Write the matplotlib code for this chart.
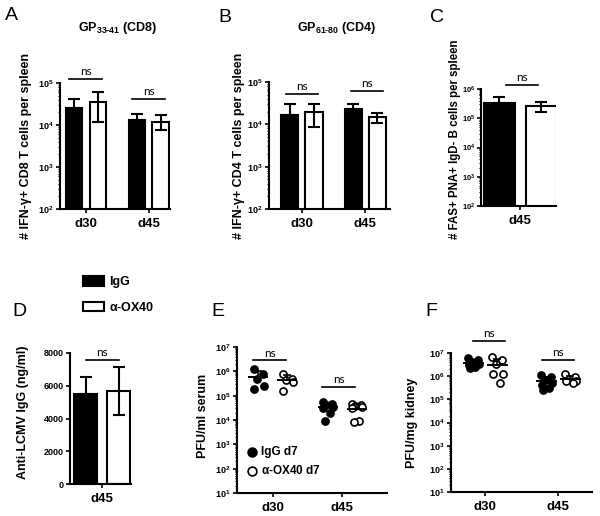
import numpy as np
import matplotlib
matplotlib.use("Agg")
import matplotlib.pyplot as plt
from matplotlib.ticker import LogLocator, NullFormatter, FixedLocator

plt.rcParams['font.family'] = ['Liberation Sans', 'DejaVu Sans']
plt.rcParams['mathtext.fontset'] = 'custom'
plt.rcParams['mathtext.rm'] = 'Liberation Sans'
plt.rcParams['mathtext.bf'] = 'Liberation Sans:bold'

# ---- data ----
days_ab = ["d30", "d45"]
days_c = ["d45"]

# A: GP33-41 CD8 (mean, upper err, lower err)
a_igg = [2.6e4, 1.35e4]
a_igg_hi = [4.2e4, 1.8e4]
a_ox = [3.6e4, 1.2e4]
a_ox_hi = [6.0e4, 1.7e4]
a_ox_lo = [1.2e4, 7.4e3]

# B: GP61-80 CD4
b_igg = [1.7e4, 2.3e4]
b_igg_hi = [3.1e4, 3.1e4]
b_ox = [2.0e4, 1.5e4]
b_ox_hi = [3.1e4, 1.9e4]
b_ox_lo = [8.7e3, 1.1e4]

# C: GC B cells
c_igg = [3.3e5]
c_igg_hi = [5.2e5]
c_ox = [2.6e5]
c_ox_hi = [3.5e5]
c_ox_lo = [1.6e5]

# D: anti-LCMV IgG
d_igg = [5490]
d_igg_hi = [6510]
d_ox = [5690]
d_ox_hi = [7140]
d_ox_lo = [4220]

# E: PFU/ml serum
e_igg = [[1.2e6, 8e5, 5e5, 2.5e5, 1.8e5],
         [5.5e4, 4.5e4, 4e4, 3.5e4, 3e4, 2e4, 9e3]]
e_ox = [[8e5, 5e5, 4.5e5, 3.5e5, 1.6e5],
        [4.5e4, 4e4, 3.8e4, 3.5e4, 3e4, 9e3, 8e3]]

# F: PFU/mg kidney
f_igg = [[6e6, 5e6, 4e6, 3.5e6, 3e6, 2.5e6, 2.2e6],
         [1.1e6, 9e5, 7e5, 5e5, 4e5, 3e5, 2.5e5]]
f_ox = [[7e6, 5e6, 3.5e6, 1.3e6, 1.2e6, 5e5],
        [1.2e6, 9e5, 7.5e5, 6.5e5, 6e5, 5e5]]

W, H = 600, 516
fig = plt.figure(figsize=(6, 5.16), dpi=100)

# horizontal spread pattern for the dot plots
JIT = np.array([-0.07, 0.06, -0.02, 0.08, -0.06, 0.03, -0.04])


def add_ax(x0, x1, ytop, ybot):
    return fig.add_axes([x0 / W, 1 - ybot / H, (x1 - x0) / W, (ybot - ytop) / H])


def style(ax, labels, xlim, log=True, ymin=None, ymax=None):
    for s in ["top", "right"]:
        ax.spines[s].set_visible(False)
    for s in ["left", "bottom"]:
        ax.spines[s].set_linewidth(1.5)
    ax.set_xlim(*xlim)
    ax.set_xticks(range(len(labels)))
    ax.set_xticklabels(labels, fontsize=9.5, fontweight="bold")
    ax.tick_params(axis="x", length=3, width=1.2, pad=3.5)
    ax.tick_params(axis="y", length=3, width=1.2, pad=1.5, labelsize=6.5)
    if log:
        ax.set_yscale("log")
        ax.set_ylim(ymin, ymax)
        lo, hi = int(np.log10(ymin)), int(np.log10(ymax))
        ticks = [10.0 ** k for k in range(lo, hi + 1)]
        ax.yaxis.set_major_locator(FixedLocator(ticks))
        ax.set_yticklabels([r"$\mathbf{10^{%d}}$" % k for k in range(lo, hi + 1)])
        ax.yaxis.set_minor_locator(LogLocator(base=10, subs=np.arange(2, 10)))
        ax.yaxis.set_minor_formatter(NullFormatter())
        ax.tick_params(axis="y", which="minor", length=1.5, width=0.8)


def bars(ax, igg, igg_hi, ox, ox_hi, ox_lo, off, width, log=True):
    x = np.arange(len(igg))
    igg = np.array(igg); ox = np.array(ox)
    igg_hi = np.array(igg_hi); ox_hi = np.array(ox_hi); ox_lo = np.array(ox_lo)
    ax.bar(x - off, igg, width, color="black", edgecolor="black", linewidth=1.5,
           label="IgG", zorder=2)
    ax.bar(x + off, ox, width, color="white", edgecolor="black", linewidth=1.5,
           label=r"$\mathbf{\alpha}$-OX40", zorder=2)
    ax.errorbar(x - off, igg, yerr=[np.zeros_like(igg), igg_hi - igg], fmt="none",
                ecolor="black", elinewidth=1.5, capsize=4, capthick=1.5, zorder=3)
    ax.errorbar(x + off, ox, yerr=[ox - ox_lo, ox_hi - ox], fmt="none",
                ecolor="black", elinewidth=1.5, capsize=4, capthick=1.5, zorder=3)
    return np.maximum(igg_hi, ox_hi)


def ns(ax, x, y, half, text_gap):
    ax.plot([x - half, x + half], [y, y], color="black", lw=1.2, clip_on=False)
    ax.text(x, y * text_gap if ax.get_yscale() == "log" else y + text_gap, "ns",
            ha="center", va="bottom", fontsize=8.5, family="Lato", clip_on=False)


def dots(ax, groups_igg, groups_ox, off):
    for i, (g1, g2) in enumerate(zip(groups_igg, groups_ox)):
        for vals, xo, fc in [(g1, -off, "black"), (g2, off, "white")]:
            vals = np.array(vals)
            jit = JIT[:len(vals)]
            ax.scatter(i + xo + jit, vals, s=26, facecolor=fc, edgecolor="black",
                       linewidth=1.2, zorder=3, clip_on=False)
            m, sd = vals.mean(), vals.std(ddof=1)
            ax.plot([i + xo - 0.13, i + xo + 0.13], [m, m], color="black", lw=1.4, zorder=4)
            ax.errorbar(i + xo, m, yerr=[[0], [sd]], fmt="none", ecolor="black",
                        elinewidth=1.2, capsize=3, capthick=1.2, zorder=4)


# ---- A ----
axA = add_ax(60, 170, 83, 209)
topA = bars(axA, a_igg, a_igg_hi, a_ox, a_ox_hi, a_ox_lo, 0.19, 0.26)
style(axA, days_ab, (-0.41, 1.34), ymin=1e2, ymax=1e5)
axA.set_ylabel("# IFN-\u03b3+ CD8 T cells per spleen", fontsize=9, fontweight="bold")
axA.yaxis.set_label_coords(-0.25, 0.5)
for i, f in enumerate([2.1, 2.3]):
    ns(axA, i, topA[i] * f, 0.26, 1.12)

# ---- B ----
axB = add_ax(269, 390, 82, 209)
topB = bars(axB, b_igg, b_igg_hi, b_ox, b_ox_hi, b_ox_lo, 0.19, 0.27)
style(axB, days_ab, (-0.52, 1.39), ymin=1e2, ymax=1e5)
axB.set_ylabel("# IFN-\u03b3+ CD4 T cells per spleen", fontsize=9, fontweight="bold")
axB.yaxis.set_label_coords(-0.2, 0.5)
for i, f in enumerate([1.7, 2.0]):
    ns(axB, i + 0.03 * i, topB[i] * f, 0.25, 1.12)

# ---- C ----
axC = add_ax(481, 556, 89, 206)
topC = bars(axC, c_igg, c_igg_hi, c_ox, c_ox_hi, c_ox_lo, 0.42, 0.62)
style(axC, days_c, (-0.78, 0.72), ymin=1e2, ymax=1e6)
axC.tick_params(axis="y", labelsize=5.5, pad=1)
axC.set_ylabel("# FAS+ PNA+ IgD- B cells per spleen", fontsize=8.3, fontweight="bold")
axC.yaxis.set_label_coords(-0.27, 0.57)
ns(axC, 0.04, topC[0] * 2.6, 0.32, 1.15)

# ---- D ----
axD = add_ax(70, 131, 353, 484)
bars(axD, d_igg, d_igg_hi, d_ox, d_ox_hi, d_ox_lo, 0.41, 0.57, log=False)
style(axD, days_c, (-0.8, 0.72), log=False)
axD.set_ylim(0, 8000)
axD.set_yticks([0, 2000, 4000, 6000, 8000])
axD.set_yticklabels(["0", "2000", "4000", "6000", "8000"], fontweight="bold")
axD.set_ylabel("Anti-LCMV IgG (ng/ml)", fontsize=9, fontweight="bold")
axD.yaxis.set_label_coords(-0.67, 0.55)
ns(axD, 0.0, max(d_igg_hi[0], d_ox_hi[0]) + 430, 0.41, 120)

# ---- E ----
axE = add_ax(237, 387, 347, 493)
dots(axE, e_igg, e_ox, 0.21)
style(axE, days_ab, (-0.52, 1.65), ymin=1e1, ymax=1e7)
axE.set_ylabel("PFU/ml serum", fontsize=9, fontweight="bold")
axE.yaxis.set_label_coords(-0.19, 0.53)
ns(axE, -0.05, 2.8e6, 0.24, 1.2)
ns(axE, 0.95, 2.3e5, 0.24, 1.2)
hE1 = axE.scatter([], [], s=40, facecolor="black", edgecolor="black", linewidth=1.2)
hE2 = axE.scatter([], [], s=40, facecolor="white", edgecolor="black", linewidth=1.2)
axE.legend([hE1, hE2], ["IgG d7", r"$\mathbf{\alpha}$-OX40 d7"], loc="lower left",
           bbox_to_anchor=(0.02, 0.075), frameon=False, handletextpad=0.2,
           labelspacing=0.55, prop={"weight": "bold", "size": 8.5}, borderaxespad=0,
           handlelength=1.2)

# ---- F ----
axF = add_ax(451, 592, 353, 492)
dots(axF, f_igg, f_ox, 0.165)
style(axF, days_ab, (-0.47, 1.46), ymin=1e1, ymax=1e7)
axF.set_ylabel("PFU/mg kidney", fontsize=9, fontweight="bold")
axF.yaxis.set_label_coords(-0.235, 0.5)
ns(axF, 0.05, 3.3e7, 0.22, 1.2)
ns(axF, 1.0, 5e6, 0.22, 1.2)

# ---- titles, legend, panel letters ----
fig.text(118 / W, 1 - 28 / H, "GP$_{\\mathbf{33\u201041}}$ (CD8)", ha="center", va="center",
         fontsize=9, fontweight="bold")
fig.text(337 / W, 1 - 28 / H, "GP$_{\\mathbf{61\u201080}}$ (CD4)", ha="center", va="center",
         fontsize=9, fontweight="bold")

handles, labels = axA.get_legend_handles_labels()
fig.legend(handles, labels, loc="upper left", bbox_to_anchor=(83 / W, 1 - 276 / H),
           frameon=False, borderpad=0, borderaxespad=0, handlelength=1.7,
           handleheight=0.85, handletextpad=0.35, labelspacing=1.0,
           prop={"weight": "bold", "size": 9})

for letter, (px, py) in {"A": (11, 16), "B": (225, 17), "C": (437, 18),
                         "D": (19, 312), "E": (218, 312), "F": (431, 311)}.items():
    fig.text(px / W, 1 - py / H, letter, ha="center", va="center", fontsize=14)

fig.savefig("out.png", dpi=100)
